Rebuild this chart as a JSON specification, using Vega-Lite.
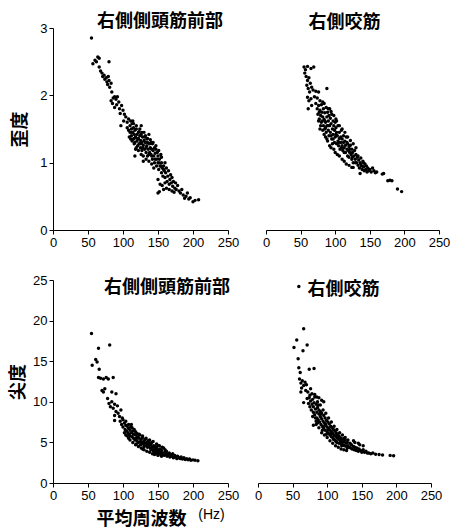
{
"$schema":"https://vega.github.io/schema/vega-lite/v6.json",
"padding":{"left":9,"top":13,"right":2,"bottom":0},
"background":"white",
"config":{"view":{"stroke":null},
"axis":{"domainColor":"black","tickColor":"black","labelColor":"black","titleColor":"black","grid":false,"tickSize":4,"labelFont":"Liberation Sans","labelFontSize":13,"labelPadding":2,"domainWidth":1,"tickWidth":1,"labelFlush":false,"titleFont":"Noto Sans CJK JP","titleFontWeight":"bold","titleFontSize":18},
"title":{"font":"Noto Sans CJK JP","fontWeight":"bold","fontSize":18,"color":"black","frame":"group"}},
"datasets":{
"tl":[{"f":55,"v":2.85},{"f":57,"v":2.47},{"f":60,"v":2.52},{"f":62,"v":2.5},{"f":64,"v":2.57},{"f":66,"v":2.55},{"f":80,"v":2.5},{"f":66,"v":2.42},{"f":68,"v":2.36},{"f":70,"v":2.33},{"f":71,"v":2.28},{"f":73,"v":2.3},{"f":74,"v":2.24},{"f":76,"v":2.26},{"f":77,"v":2.2},{"f":78,"v":2.16},{"f":80,"v":2.22},{"f":81,"v":2.12},{"f":83,"v":2.18},{"f":79,"v":2.28},{"f":84,"v":2.05},{"f":86,"v":1.96},{"f":88,"v":1.98},{"f":90,"v":1.94},{"f":92,"v":1.98},{"f":94,"v":1.9},{"f":83,"v":1.92},{"f":85,"v":1.88},{"f":88,"v":1.82},{"f":91,"v":1.86},{"f":95,"v":1.8},{"f":98,"v":1.85},{"f":100,"v":1.78},{"f":96,"v":1.73},{"f":102,"v":1.72},{"f":104,"v":1.68},{"f":97,"v":1.55},{"f":101,"v":1.62},{"f":106,"v":1.6},{"f":108,"v":1.65},{"f":106,"v":1.52},{"f":108,"v":1.48},{"f":110,"v":1.55},{"f":110,"v":1.45},{"f":112,"v":1.5},{"f":112,"v":1.4},{"f":113,"v":1.58},{"f":114,"v":1.45},{"f":115,"v":1.35},{"f":115,"v":1.52},{"f":116,"v":1.42},{"f":117,"v":1.3},{"f":117,"v":1.48},{"f":118,"v":1.38},{"f":119,"v":1.55},{"f":120,"v":1.42},{"f":120,"v":1.32},{"f":121,"v":1.25},{"f":122,"v":1.45},{"f":122,"v":1.36},{"f":123,"v":1.28},{"f":124,"v":1.4},{"f":124,"v":1.5},{"f":125,"v":1.33},{"f":125,"v":1.22},{"f":126,"v":1.42},{"f":127,"v":1.3},{"f":127,"v":1.18},{"f":128,"v":1.38},{"f":129,"v":1.26},{"f":130,"v":1.45},{"f":130,"v":1.33},{"f":131,"v":1.2},{"f":132,"v":1.3},{"f":132,"v":1.4},{"f":133,"v":1.15},{"f":134,"v":1.25},{"f":134,"v":1.35},{"f":135,"v":1.1},{"f":135,"v":1.3},{"f":136,"v":1.2},{"f":137,"v":1.42},{"f":138,"v":1.28},{"f":138,"v":1.15},{"f":139,"v":1.22},{"f":140,"v":1.3},{"f":140,"v":1.12},{"f":141,"v":1.2},{"f":142,"v":1.05},{"f":142,"v":1.28},{"f":143,"v":1.18},{"f":144,"v":1.1},{"f":145,"v":1.22},{"f":145,"v":1.0},{"f":146,"v":1.14},{"f":147,"v":1.25},{"f":148,"v":1.05},{"f":148,"v":0.95},{"f":149,"v":1.15},{"f":150,"v":1.0},{"f":150,"v":1.1},{"f":151,"v":0.9},{"f":152,"v":1.05},{"f":153,"v":0.95},{"f":154,"v":1.12},{"f":155,"v":0.85},{"f":155,"v":1.0},{"f":156,"v":0.92},{"f":157,"v":0.8},{"f":158,"v":0.95},{"f":159,"v":0.88},{"f":160,"v":1.0},{"f":160,"v":0.78},{"f":117,"v":1.1},{"f":129,"v":1.02},{"f":111,"v":1.35},{"f":114,"v":1.62},{"f":126,"v":1.55},{"f":118,"v":1.2},{"f":161,"v":0.85},{"f":162,"v":0.92},{"f":163,"v":0.72},{"f":164,"v":0.8},{"f":165,"v":0.88},{"f":166,"v":0.68},{"f":167,"v":0.75},{"f":168,"v":0.82},{"f":169,"v":0.7},{"f":170,"v":0.78},{"f":171,"v":0.65},{"f":172,"v":0.72},{"f":174,"v":0.62},{"f":175,"v":0.7},{"f":176,"v":0.6},{"f":178,"v":0.66},{"f":180,"v":0.58},{"f":150,"v":0.75},{"f":153,"v":0.68},{"f":156,"v":0.66},{"f":152,"v":0.57},{"f":150,"v":0.55},{"f":158,"v":0.6},{"f":162,"v":0.62},{"f":166,"v":0.6},{"f":170,"v":0.58},{"f":182,"v":0.55},{"f":184,"v":0.6},{"f":186,"v":0.52},{"f":188,"v":0.47},{"f":190,"v":0.5},{"f":192,"v":0.55},{"f":194,"v":0.46},{"f":196,"v":0.48},{"f":200,"v":0.42},{"f":203,"v":0.44},{"f":208,"v":0.45},{"f":173,"v":0.56},{"f":160,"v":0.7},{"f":109,"v":1.38},{"f":113,"v":1.32},{"f":116,"v":1.28},{"f":119,"v":1.22},{"f":122,"v":1.18},{"f":126,"v":1.12},{"f":129,"v":1.1},{"f":133,"v":1.05},{"f":137,"v":1.02},{"f":141,"v":0.98},{"f":144,"v":0.92},{"f":111,"v":1.62},{"f":115,"v":1.58},{"f":119,"v":1.5},{"f":123,"v":1.46},{"f":127,"v":1.45},{"f":131,"v":1.38},{"f":135,"v":1.36},{"f":139,"v":1.34},{"f":143,"v":1.3},{"f":147,"v":1.2},{"f":151,"v":1.18},{"f":155,"v":1.08},{"f":112,"v":1.45},{"f":116,"v":1.36},{"f":121,"v":1.35},{"f":125,"v":1.28},{"f":128,"v":1.22},{"f":133,"v":1.22},{"f":137,"v":1.12},{"f":141,"v":1.1},{"f":146,"v":1.05},{"f":151,"v":1.0},{"f":154,"v":0.95},{"f":158,"v":0.9}],
"tr":[{"f":55,"v":2.42},{"f":57,"v":2.38},{"f":60,"v":2.43},{"f":65,"v":2.4},{"f":69,"v":2.42},{"f":56,"v":2.33},{"f":58,"v":2.28},{"f":60,"v":2.22},{"f":62,"v":2.26},{"f":59,"v":2.15},{"f":61,"v":2.1},{"f":64,"v":2.18},{"f":66,"v":2.12},{"f":63,"v":2.05},{"f":68,"v":2.08},{"f":72,"v":2.06},{"f":76,"v":2.05},{"f":88,"v":2.1},{"f":60,"v":1.97},{"f":62,"v":1.92},{"f":65,"v":1.95},{"f":70,"v":1.98},{"f":74,"v":1.96},{"f":78,"v":1.92},{"f":82,"v":1.9},{"f":61,"v":1.8},{"f":66,"v":1.85},{"f":72,"v":1.88},{"f":74,"v":1.8},{"f":76,"v":1.85},{"f":75,"v":1.72},{"f":77,"v":1.65},{"f":78,"v":1.78},{"f":79,"v":1.7},{"f":80,"v":1.86},{"f":80,"v":1.6},{"f":81,"v":1.75},{"f":82,"v":1.68},{"f":83,"v":1.8},{"f":83,"v":1.55},{"f":84,"v":1.64},{"f":85,"v":1.74},{"f":85,"v":1.5},{"f":86,"v":1.6},{"f":87,"v":1.82},{"f":87,"v":1.45},{"f":88,"v":1.68},{"f":88,"v":1.55},{"f":89,"v":1.75},{"f":90,"v":1.62},{"f":90,"v":1.48},{"f":91,"v":1.4},{"f":91,"v":1.7},{"f":92,"v":1.55},{"f":93,"v":1.66},{"f":93,"v":1.45},{"f":94,"v":1.58},{"f":95,"v":1.35},{"f":95,"v":1.72},{"f":96,"v":1.5},{"f":97,"v":1.62},{"f":97,"v":1.42},{"f":98,"v":1.55},{"f":99,"v":1.3},{"f":99,"v":1.48},{"f":100,"v":1.6},{"f":100,"v":1.38},{"f":101,"v":1.52},{"f":102,"v":1.45},{"f":102,"v":1.28},{"f":103,"v":1.4},{"f":104,"v":1.55},{"f":104,"v":1.32},{"f":105,"v":1.25},{"f":106,"v":1.45},{"f":106,"v":1.36},{"f":107,"v":1.2},{"f":108,"v":1.38},{"f":108,"v":1.3},{"f":109,"v":1.48},{"f":110,"v":1.25},{"f":110,"v":1.35},{"f":111,"v":1.18},{"f":112,"v":1.3},{"f":112,"v":1.4},{"f":113,"v":1.22},{"f":114,"v":1.32},{"f":115,"v":1.15},{"f":115,"v":1.26},{"f":116,"v":1.38},{"f":117,"v":1.2},{"f":118,"v":1.1},{"f":118,"v":1.28},{"f":119,"v":1.18},{"f":120,"v":1.24},{"f":120,"v":1.08},{"f":121,"v":1.15},{"f":122,"v":1.26},{"f":123,"v":1.12},{"f":124,"v":1.05},{"f":124,"v":1.2},{"f":125,"v":1.15},{"f":126,"v":1.0},{"f":127,"v":1.1},{"f":128,"v":1.18},{"f":129,"v":1.05},{"f":130,"v":1.12},{"f":78,"v":1.5},{"f":88,"v":1.35},{"f":96,"v":1.28},{"f":85,"v":1.62},{"f":92,"v":1.8},{"f":101,"v":1.65},{"f":131,"v":1.0},{"f":132,"v":1.08},{"f":133,"v":0.96},{"f":134,"v":1.04},{"f":135,"v":0.92},{"f":136,"v":1.0},{"f":137,"v":1.07},{"f":138,"v":0.95},{"f":139,"v":0.9},{"f":140,"v":1.02},{"f":141,"v":0.94},{"f":142,"v":0.88},{"f":143,"v":0.98},{"f":144,"v":0.9},{"f":145,"v":0.95},{"f":146,"v":0.86},{"f":147,"v":0.92},{"f":148,"v":0.88},{"f":150,"v":0.9},{"f":152,"v":0.86},{"f":154,"v":0.92},{"f":156,"v":0.88},{"f":158,"v":0.85},{"f":160,"v":0.86},{"f":126,"v":0.93},{"f":136,"v":0.84},{"f":168,"v":0.83},{"f":170,"v":0.84},{"f":176,"v":0.73},{"f":179,"v":0.74},{"f":182,"v":0.73},{"f":190,"v":0.61},{"f":196,"v":0.57},{"f":76,"v":1.62},{"f":79,"v":1.55},{"f":82,"v":1.48},{"f":84,"v":1.42},{"f":86,"v":1.38},{"f":89,"v":1.32},{"f":92,"v":1.25},{"f":94,"v":1.22},{"f":98,"v":1.2},{"f":100,"v":1.15},{"f":103,"v":1.12},{"f":106,"v":1.1},{"f":110,"v":1.05},{"f":113,"v":1.02},{"f":116,"v":0.98},{"f":120,"v":0.96},{"f":124,"v":0.93},{"f":84,"v":1.88},{"f":90,"v":1.8},{"f":94,"v":1.76},{"f":98,"v":1.7},{"f":102,"v":1.62},{"f":106,"v":1.55},{"f":110,"v":1.5},{"f":114,"v":1.45},{"f":118,"v":1.38},{"f":122,"v":1.33},{"f":126,"v":1.28},{"f":130,"v":1.22},{"f":77,"v":1.75},{"f":81,"v":1.62},{"f":86,"v":1.52},{"f":90,"v":1.55},{"f":94,"v":1.4},{"f":97,"v":1.35},{"f":101,"v":1.42},{"f":105,"v":1.3},{"f":109,"v":1.22},{"f":113,"v":1.15},{"f":117,"v":1.3},{"f":121,"v":1.2},{"f":125,"v":1.08},{"f":129,"v":1.0},{"f":133,"v":1.1},{"f":137,"v":0.98},{"f":141,"v":1.0}],
"bl":[{"f":55,"v":18.4},{"f":65,"v":16.6},{"f":81,"v":17.0},{"f":61,"v":15.2},{"f":63,"v":14.9},{"f":56,"v":14.5},{"f":66,"v":14.0},{"f":65,"v":13.0},{"f":68,"v":12.9},{"f":72,"v":12.8},{"f":76,"v":13.0},{"f":79,"v":12.8},{"f":86,"v":13.0},{"f":70,"v":11.4},{"f":74,"v":11.6},{"f":72,"v":11.2},{"f":84,"v":11.2},{"f":90,"v":11.0},{"f":80,"v":9.8},{"f":82,"v":9.4},{"f":86,"v":9.2},{"f":84,"v":10.0},{"f":88,"v":9.7},{"f":92,"v":9.5},{"f":78,"v":10.4},{"f":88,"v":8.3},{"f":90,"v":8.8},{"f":93,"v":8.6},{"f":95,"v":8.2},{"f":97,"v":9.0},{"f":99,"v":8.0},{"f":88,"v":7.7},{"f":96,"v":7.6},{"f":98,"v":7.2},{"f":100,"v":7.8},{"f":100,"v":6.9},{"f":102,"v":7.4},{"f":103,"v":6.6},{"f":104,"v":7.1},{"f":105,"v":6.4},{"f":106,"v":7.0},{"f":107,"v":6.2},{"f":108,"v":6.7},{"f":109,"v":6.0},{"f":110,"v":6.5},{"f":110,"v":5.8},{"f":111,"v":6.9},{"f":112,"v":6.2},{"f":113,"v":5.7},{"f":114,"v":6.4},{"f":115,"v":5.5},{"f":115,"v":6.0},{"f":116,"v":6.6},{"f":117,"v":5.3},{"f":118,"v":5.9},{"f":119,"v":5.5},{"f":120,"v":6.1},{"f":120,"v":5.2},{"f":121,"v":5.7},{"f":122,"v":5.0},{"f":123,"v":5.5},{"f":124,"v":5.9},{"f":125,"v":5.1},{"f":125,"v":4.7},{"f":126,"v":5.4},{"f":127,"v":5.0},{"f":128,"v":5.6},{"f":129,"v":4.8},{"f":130,"v":5.2},{"f":130,"v":4.5},{"f":131,"v":4.9},{"f":132,"v":5.4},{"f":133,"v":4.6},{"f":134,"v":5.0},{"f":135,"v":4.4},{"f":135,"v":4.8},{"f":136,"v":5.2},{"f":137,"v":4.5},{"f":138,"v":4.9},{"f":139,"v":4.3},{"f":140,"v":4.7},{"f":140,"v":4.1},{"f":141,"v":5.0},{"f":142,"v":4.4},{"f":143,"v":4.0},{"f":144,"v":4.6},{"f":145,"v":4.2},{"f":145,"v":3.8},{"f":146,"v":4.5},{"f":147,"v":4.0},{"f":148,"v":4.3},{"f":149,"v":3.7},{"f":150,"v":4.1},{"f":150,"v":4.6},{"f":151,"v":3.9},{"f":152,"v":3.6},{"f":153,"v":4.2},{"f":154,"v":3.8},{"f":155,"v":4.0},{"f":155,"v":3.5},{"f":119,"v":4.8},{"f":108,"v":5.5},{"f":112,"v":7.2},{"f":104,"v":5.9},{"f":128,"v":4.2},{"f":157,"v":3.7},{"f":158,"v":4.3},{"f":159,"v":3.4},{"f":160,"v":3.8},{"f":161,"v":3.5},{"f":162,"v":3.9},{"f":163,"v":3.3},{"f":164,"v":3.6},{"f":165,"v":3.4},{"f":166,"v":3.7},{"f":167,"v":3.2},{"f":168,"v":3.5},{"f":170,"v":3.3},{"f":171,"v":3.6},{"f":172,"v":3.1},{"f":174,"v":3.4},{"f":175,"v":3.2},{"f":177,"v":3.0},{"f":178,"v":3.3},{"f":180,"v":3.1},{"f":182,"v":3.0},{"f":183,"v":3.2},{"f":185,"v":2.95},{"f":187,"v":3.1},{"f":189,"v":2.9},{"f":191,"v":3.0},{"f":193,"v":2.85},{"f":195,"v":2.95},{"f":197,"v":2.8},{"f":200,"v":2.85},{"f":203,"v":2.8},{"f":207,"v":2.75},{"f":145,"v":3.5},{"f":150,"v":3.4},{"f":155,"v":3.3},{"f":102,"v":6.2},{"f":106,"v":5.8},{"f":110,"v":5.3},{"f":114,"v":5.0},{"f":118,"v":4.7},{"f":122,"v":4.5},{"f":126,"v":4.3},{"f":130,"v":4.1},{"f":134,"v":3.9},{"f":138,"v":3.8},{"f":142,"v":3.6},{"f":146,"v":3.6},{"f":150,"v":3.5},{"f":104,"v":7.6},{"f":108,"v":7.2},{"f":113,"v":6.8},{"f":118,"v":6.3},{"f":123,"v":6.0},{"f":128,"v":5.8},{"f":133,"v":5.5},{"f":138,"v":5.3},{"f":143,"v":5.1},{"f":148,"v":4.8},{"f":152,"v":4.6},{"f":156,"v":4.4},{"f":160,"v":4.1}],
"br":[{"f":59,"v":24.2},{"f":66,"v":19.0},{"f":56,"v":17.6},{"f":71,"v":17.0},{"f":52,"v":16.7},{"f":65,"v":16.3},{"f":58,"v":15.3},{"f":59,"v":14.2},{"f":61,"v":13.6},{"f":74,"v":14.0},{"f":81,"v":14.1},{"f":60,"v":12.8},{"f":62,"v":12.3},{"f":64,"v":12.6},{"f":66,"v":12.0},{"f":68,"v":12.4},{"f":70,"v":12.1},{"f":63,"v":11.7},{"f":76,"v":11.6},{"f":66,"v":9.9},{"f":72,"v":11.2},{"f":75,"v":10.8},{"f":78,"v":11.0},{"f":82,"v":10.9},{"f":85,"v":10.6},{"f":88,"v":10.5},{"f":92,"v":10.2},{"f":95,"v":10.0},{"f":80,"v":7.1},{"f":62,"v":11.2},{"f":69,"v":11.4},{"f":71,"v":10.4},{"f":73,"v":9.8},{"f":74,"v":10.5},{"f":75,"v":9.4},{"f":76,"v":10.1},{"f":77,"v":9.0},{"f":78,"v":9.7},{"f":79,"v":10.3},{"f":80,"v":8.7},{"f":80,"v":9.4},{"f":81,"v":9.9},{"f":82,"v":8.4},{"f":83,"v":9.1},{"f":84,"v":9.7},{"f":85,"v":8.0},{"f":85,"v":8.7},{"f":86,"v":9.3},{"f":87,"v":7.8},{"f":88,"v":8.5},{"f":88,"v":9.0},{"f":89,"v":7.5},{"f":90,"v":8.2},{"f":90,"v":8.8},{"f":91,"v":7.2},{"f":92,"v":7.9},{"f":92,"v":8.6},{"f":93,"v":7.0},{"f":94,"v":7.6},{"f":95,"v":8.3},{"f":95,"v":6.8},{"f":96,"v":7.4},{"f":97,"v":8.0},{"f":97,"v":6.5},{"f":98,"v":7.2},{"f":99,"v":7.7},{"f":100,"v":6.3},{"f":100,"v":6.9},{"f":101,"v":7.5},{"f":102,"v":6.1},{"f":102,"v":6.7},{"f":103,"v":7.3},{"f":104,"v":5.9},{"f":104,"v":6.5},{"f":105,"v":7.0},{"f":106,"v":5.7},{"f":106,"v":6.3},{"f":107,"v":6.8},{"f":108,"v":5.6},{"f":108,"v":6.1},{"f":109,"v":6.6},{"f":110,"v":5.4},{"f":110,"v":5.9},{"f":111,"v":6.4},{"f":112,"v":5.2},{"f":112,"v":5.8},{"f":113,"v":6.2},{"f":114,"v":5.0},{"f":114,"v":5.6},{"f":115,"v":6.0},{"f":116,"v":5.4},{"f":117,"v":4.9},{"f":118,"v":5.6},{"f":119,"v":5.2},{"f":120,"v":4.8},{"f":120,"v":5.5},{"f":121,"v":5.0},{"f":122,"v":5.4},{"f":123,"v":4.7},{"f":124,"v":5.1},{"f":125,"v":4.6},{"f":126,"v":5.3},{"f":127,"v":4.9},{"f":128,"v":4.5},{"f":129,"v":5.0},{"f":130,"v":4.6},{"f":86,"v":7.4},{"f":93,"v":6.5},{"f":99,"v":6.0},{"f":79,"v":8.2},{"f":84,"v":7.6},{"f":132,"v":4.4},{"f":133,"v":4.9},{"f":134,"v":4.3},{"f":135,"v":4.7},{"f":136,"v":4.2},{"f":138,"v":4.5},{"f":139,"v":4.1},{"f":140,"v":4.4},{"f":142,"v":4.0},{"f":143,"v":4.3},{"f":145,"v":3.9},{"f":146,"v":4.2},{"f":148,"v":4.0},{"f":150,"v":3.8},{"f":152,"v":4.1},{"f":154,"v":3.8},{"f":156,"v":3.9},{"f":158,"v":3.7},{"f":160,"v":3.7},{"f":163,"v":3.6},{"f":166,"v":3.7},{"f":170,"v":3.55},{"f":175,"v":3.5},{"f":180,"v":3.45},{"f":191,"v":3.4},{"f":196,"v":3.35},{"f":140,"v":5.0},{"f":147,"v":4.7},{"f":138,"v":5.2},{"f":145,"v":4.9},{"f":152,"v":4.6},{"f":82,"v":10.6},{"f":86,"v":10.0},{"f":90,"v":9.6},{"f":94,"v":9.0},{"f":98,"v":8.6},{"f":102,"v":8.0},{"f":106,"v":7.5},{"f":110,"v":7.0},{"f":114,"v":6.6},{"f":118,"v":6.2},{"f":122,"v":5.9},{"f":126,"v":5.6},{"f":130,"v":5.3},{"f":84,"v":7.2},{"f":88,"v":6.8},{"f":92,"v":6.2},{"f":96,"v":5.9},{"f":100,"v":5.6},{"f":104,"v":5.2},{"f":108,"v":4.9},{"f":112,"v":4.6},{"f":116,"v":4.4},{"f":120,"v":4.2},{"f":124,"v":4.1},{"f":128,"v":4.0},{"f":83,"v":8.0},{"f":87,"v":9.6},{"f":91,"v":8.5},{"f":94,"v":6.9},{"f":97,"v":7.1},{"f":101,"v":6.6},{"f":105,"v":6.0},{"f":109,"v":5.4},{"f":113,"v":5.1},{"f":117,"v":5.8},{"f":121,"v":4.6},{"f":125,"v":5.5},{"f":129,"v":4.3}]
},
"spacing":25,
"bounds":"full",
"vconcat":[
{"hconcat":[
{"width":175,"height":202,"data":{"name":"tl"},
"title":{"text":"右側側頭筋前部","anchor":"end","dx":-5,"offset":-9},
"mark":{"type":"circle","size":12,"color":"black","opacity":1},
"encoding":{"x":{"field":"f","type":"quantitative","scale":{"domain":[0,250]},"axis":{"values":[0,50,100,150,200,250],"title":null}},
"y":{"field":"v","type":"quantitative","scale":{"domain":[0,3]},"axis":{"values":[0,1,2,3],"title":"歪度","titlePadding":10}}}},
{"width":173,"height":202,"data":{"name":"tr"},
"title":{"text":"右側咬筋","anchor":"middle","dx":-8,"offset":-4},
"mark":{"type":"circle","size":12,"color":"black","opacity":1},
"encoding":{"x":{"field":"f","type":"quantitative","scale":{"domain":[0,250]},"axis":{"values":[0,50,100,150,200,250],"title":null}},
"y":{"field":"v","type":"quantitative","scale":{"domain":[0,3]},"axis":null}}}
],"spacing":38,"bounds":"flush"},
{"hconcat":[
{"width":175,"height":203,"data":{"name":"bl"},
"title":{"text":"右側側頭筋前部","anchor":"end","dx":2,"offset":-23},
"mark":{"type":"circle","size":12,"color":"black","opacity":1},
"encoding":{"x":{"field":"f","type":"quantitative","scale":{"domain":[0,250]},"axis":{"values":[0,50,100,150,200,250],"title":"平均周波数","titleX":88,"titleY":36,"titleBaseline":"middle","titleAlign":"center"}},
"y":{"field":"v","type":"quantitative","scale":{"domain":[0,25]},"axis":{"values":[0,5,10,15,20,25],"title":"尖度","titlePadding":5}}}},
{"width":173,"height":203,"data":{"name":"br"},
"title":{"text":"右側咬筋","anchor":"middle","dx":-1,"offset":-19},
"mark":{"type":"circle","size":12,"color":"black","opacity":1},
"encoding":{"x":{"field":"f","type":"quantitative","scale":{"domain":[0,250]},"axis":{"values":[0,50,100,150,200,250],"title":"(Hz)","titleFont":"Liberation Sans","titleFontWeight":"normal","titleFontSize":14,"titleX":-47,"titleY":31,"titleBaseline":"middle","titleAlign":"center"}},
"y":{"field":"v","type":"quantitative","scale":{"domain":[0,25]},"axis":null}}}
],"spacing":30,"bounds":"flush"}
]
}
